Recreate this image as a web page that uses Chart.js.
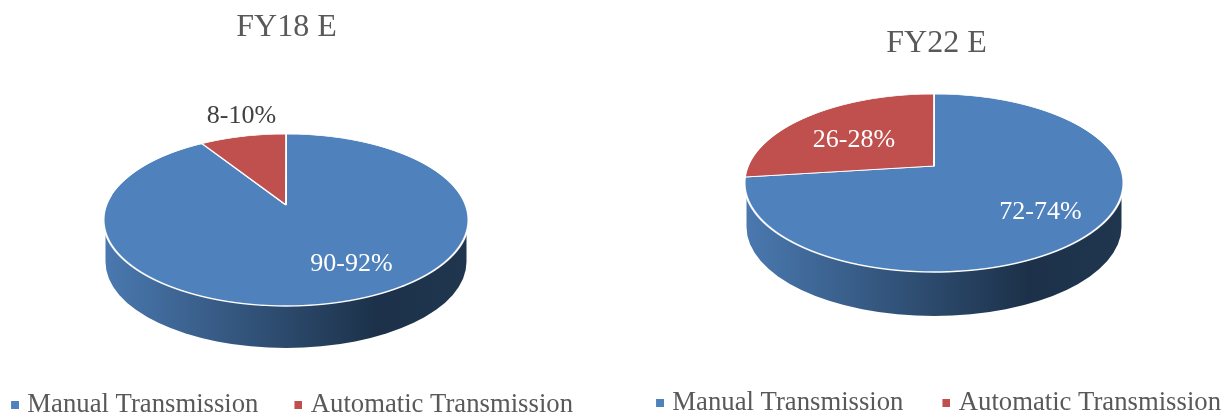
<!DOCTYPE html>
<html lang="en">
<head>
    <meta charset="UTF-8">
    <title>Transmission share FY18 E and FY22 E</title>
    <script src="https://cdn.jsdelivr.net/npm/chart.js"></script>
    <style>
        body { margin: 0; background: #fff; overflow: hidden; }
        canvas { position: absolute; top: 0; }
        #pieFY18 { left: -30px; }
        #pieFY22 { left: 608px; }
    </style>
</head>
<body>
    <canvas id="pieFY18" width="632" height="414"></canvas>
    <canvas id="pieFY22" width="652" height="414"></canvas>
    <script>
        const categories = ['Manual Transmission', 'Automatic Transmission'];
        const fy18Values = [91, 9];
        const fy22Values = [73, 27];
        const fy18Labels = ['90-92%', '8-10%'];
        const fy22Labels = ['72-74%', '26-28%'];

        const serif = 'Liberation Serif';
        const sliceColors = ['#4f81bd', '#c0504d'];

        // legend marker sits closer to its text than Chart.js allows, so the
        // point style image is wider than the square, which is on its right
        function swatch(color) {
            const c = document.createElement('canvas');
            c.width = 18;
            c.height = 8;
            const g = c.getContext('2d');
            g.fillStyle = color;
            g.fillRect(10, 0, 8, 8);
            return c;
        }

        // tilted pie with perspective: the library's arcs are drawn row by row,
        // each pixel row with the scale of the tilted plane at that height
        const pie3d = {
            id: 'pie3d',
            beforeDatasetsDraw(chart, args, opts) {
                const ctx = chart.ctx;
                const arcs = chart.getDatasetMeta(0).data;
                const cx = arcs[0].x, cy = arcs[0].y, r = arcs[0].outerRadius;
                const A = opts.above, B = opts.below;
                const a = (B - A) / (B + A);
                const t = B * (1 - a) / r;
                const s = Math.sqrt(1 - a * a);
                const ry = (A + B) / 2;
                const midY = opts.apexY + (B - A) / 2;

                // side wall
                const wall = ctx.createLinearGradient(cx - r, 0, cx + r, 0);
                wall.addColorStop(0, '#4a79b0');
                wall.addColorStop(0.75, '#1c3149');
                wall.addColorStop(1, '#20364f');
                ctx.save();
                ctx.fillStyle = wall;
                ctx.beginPath();
                ctx.moveTo(cx - r + 2, midY);
                ctx.lineTo(cx - r + 2, midY + opts.depth);
                ctx.ellipse(cx, midY + opts.depth, r - 2, ry, 0, Math.PI, 0, true);
                ctx.lineTo(cx + r - 2, midY);
                ctx.closePath();
                ctx.fill();
                ctx.restore();

                // top face
                const first = Math.floor(opts.apexY - A) - 2;
                const last = Math.ceil(opts.apexY + B) + 2;
                for (let row = first; row < last; row++) {
                    const dY = row + 0.5 - opts.apexY;
                    const v = dY / (t + a * dY / r);
                    const w = 1 - a * v / r;
                    ctx.save();
                    ctx.beginPath();
                    ctx.rect(0, row, chart.width, 1);
                    ctx.clip();
                    ctx.translate(cx, row + 0.5);
                    ctx.scale(s / w, t / (w * w));
                    ctx.translate(-cx, -(cy + v));
                    arcs.forEach(arc => arc.draw(ctx));
                    ctx.restore();
                }
                return false;
            },
            afterDraw(chart, args, opts) {
                const ctx = chart.ctx;
                const cx = chart.getDatasetMeta(0).data[0].x;
                ctx.save();
                ctx.font = '26px "' + serif + '"';
                ctx.textAlign = 'center';
                ctx.textBaseline = 'middle';
                opts.labels.forEach((text, i) => {
                    ctx.fillStyle = opts.labelColors[i];
                    ctx.fillText(text, cx + opts.labelOffsets[i][0], opts.apexY + opts.labelOffsets[i][1]);
                });
                ctx.restore();
            },
            afterLayout(chart, args, opts) {
                chart.legend.left += opts.legendShift;
                chart.legend.right += opts.legendShift;
                chart.legend.top += opts.legendDrop;
                chart.legend.bottom += opts.legendDrop;
                chart.titleBlock.left += opts.titleShift;
                chart.titleBlock.right += opts.titleShift;
            }
        };

        function drawPie(id, title, values, labels, o) {
            new Chart(document.getElementById(id), {
                type: 'pie',
                data: {
                    labels: categories,
                    datasets: [{
                        data: values,
                        backgroundColor: sliceColors,
                        borderColor: '#ffffff',
                        borderWidth: 2,
                        radius: o.radius
                    }]
                },
                plugins: [pie3d],
                options: {
                    responsive: false,
                    animation: false,
                    plugins: {
                        tooltip: { enabled: false },
                        title: {
                            display: true,
                            text: title,
                            color: '#595959',
                            font: { family: serif, size: 32, weight: 'normal' },
                            padding: { top: o.titleTop, bottom: 6 }
                        },
                        legend: {
                            position: 'bottom',
                            labels: {
                                color: '#595959',
                                font: { family: serif, size: 26.7 },
                                usePointStyle: true,
                                boxWidth: 8,
                                boxHeight: 8,
                                padding: o.legendGap,
                                generateLabels: chart =>
                                    Chart.overrides.pie.plugins.legend.labels.generateLabels(chart)
                                        .map((item, i) => ({ ...item, pointStyle: swatch(sliceColors[i]) }))
                            }
                        },
                        pie3d: {
                            apexY: o.apexY,
                            above: o.above,
                            below: o.below,
                            depth: o.depth,
                            legendShift: o.legendShift,
                            legendDrop: o.legendDrop,
                            titleShift: o.titleShift,
                            labels: labels,
                            labelColors: o.labelColors,
                            labelOffsets: o.labelOffsets
                        }
                    }
                }
            });
        }

        drawPie('pieFY18', 'FY18 E', fy18Values, fy18Labels, {
            radius: 182.5, titleTop: 8, titleShift: 0.5, legendGap: 31, legendShift: 3.5, legendDrop: 14,
            apexY: 205, above: 71, below: 101, depth: 42,
            labelColors: ['#ffffff', '#404040'],
            labelOffsets: [[65.5, 59], [-44.5, -89]]
        });
        drawPie('pieFY22', 'FY22 E', fy22Values, fy22Labels, {
            radius: 189.5, titleTop: 24, titleShift: 2.5, legendGap: 34, legendShift: 2, legendDrop: 12,
            apexY: 166, above: 72, below: 106, depth: 44,
            labelColors: ['#ffffff', '#ffffff'],
            labelOffsets: [[106.5, 46], [-80, -26]]
        });
    </script>
</body>
</html>
